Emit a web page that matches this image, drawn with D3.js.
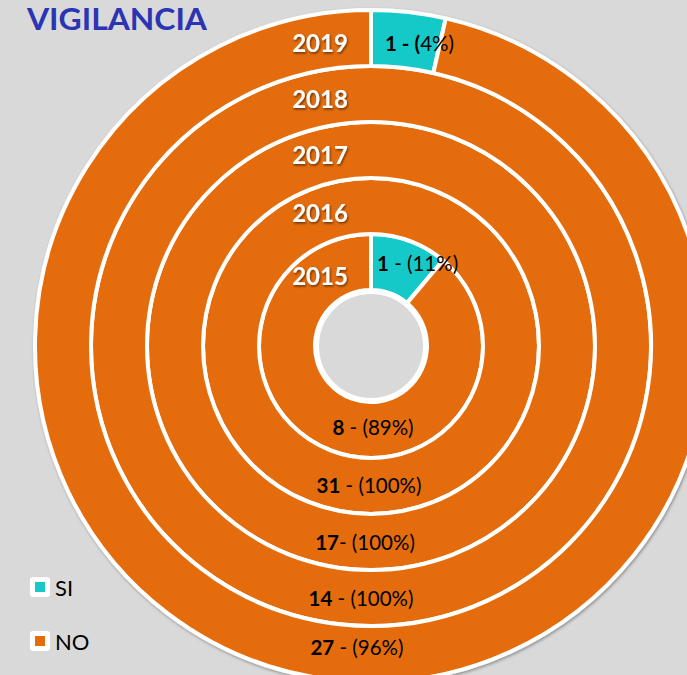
<!DOCTYPE html>
<html>
<head>
<meta charset="utf-8">
<script src="https://cdn.jsdelivr.net/npm/d3@7"></script>
<style>
  html, body { margin: 0; padding: 0; background: #d9d9d9; overflow: hidden; }
  svg { display: block; font-family: Lato, "Open Sans", sans-serif; }
</style>
</head>
<body>
<svg id="chart" width="687" height="675"></svg>
<script>
// data (inner ring first)
const years = ["2015", "2016", "2017", "2018", "2019"];
const siValues = [1, 0, 0, 0, 1];
const noValues = [8, 31, 17, 14, 27];
const noSeparators = [" - ", " - ", "- ", " - ", " - "];
const categories = ["SI", "NO"];

const width = 687, height = 675;
const cx = 371, cy = 346;

const color = d3.scaleOrdinal()
    .domain(categories)
    .range(["#18c9c9", "#e46c0a"]);

// each ring is one band of the radius
const ring = d3.scaleBand()
    .domain(years)
    .range([56, 336]);

const pie = d3.pie()
    .sort(null)
    .value(d => d.value);

const pct = v => Math.round(v * 100) + "%";

const svg = d3.select("#chart");

const defs = svg.append("defs");
const sh = defs.append("filter").attr("id", "shadow")
    .attr("x", "-10%").attr("y", "-10%").attr("width", "120%").attr("height", "120%");
sh.append("feDropShadow").attr("dx", 1).attr("dy", 1.5).attr("stdDeviation", 1.5)
    .attr("flood-color", "#000").attr("flood-opacity", 0.35);
const tsh = defs.append("filter").attr("id", "tshadow");
tsh.append("feDropShadow").attr("dx", 1).attr("dy", 1.5).attr("stdDeviation", 1)
    .attr("flood-color", "#000").attr("flood-opacity", 0.55);

const g = svg.append("g").attr("transform", `translate(${cx},${cy})`);
const rings = g.append("g").attr("filter", "url(#shadow)");

// small nudges of the bottom labels, as excel placed them
const noLift = [3, 1, 0, 0, 7];

years.forEach((yr, i) => {
  const data = [
    { key: "SI", value: siValues[i] },
    { key: "NO", value: noValues[i] }
  ];
  const total = siValues[i] + noValues[i];
  const arc = d3.arc()
      .innerRadius(ring(yr))
      .outerRadius(ring(yr) + ring.bandwidth());

  rings.selectAll(null)
    .data(pie(data).filter(d => d.data.value > 0))
    .enter().append("path")
      .attr("d", arc)
      .attr("fill", d => color(d.data.key))
      .attr("stroke", "#fff")
      .attr("stroke-width", 4)
      .attr("stroke-linejoin", "round");

  const mid = ring(yr) + ring.bandwidth() / 2;

  // year label, left of the top line
  g.append("text")
    .attr("x", -51)
    .attr("y", -Math.sqrt(mid * mid - 51 * 51) - (4 - i))
    .attr("text-anchor", "middle")
    .attr("dominant-baseline", "central")
    .attr("fill", "#fff")
    .attr("font-weight", 700)
    .attr("font-size", 24)
    .attr("filter", "url(#tshadow)")
    .text(yr);

  // SI label
  if (siValues[i] > 0) {
    const t = g.append("text")
      .attr("x", 6 + i * 2)
      .attr("y", -mid * 0.985)
      .attr("dominant-baseline", "central")
      .attr("font-size", 20.5)
      .attr("fill", "#000");
    if (i === years.length - 1) {
      t.append("tspan").attr("font-weight", 700).text(siValues[i] + " - (");
      t.append("tspan").text(pct(siValues[i] / total) + ")");
    } else {
      t.append("tspan").attr("font-weight", 700).text(siValues[i]);
      t.append("tspan").text(" - (" + pct(siValues[i] / total) + ")");
    }
  }

  // NO label at the bottom
  const n = g.append("text")
    .attr("x", 2 - i * 4)
    .attr("y", mid - noLift[i])
    .attr("text-anchor", "middle")
    .attr("dominant-baseline", "central")
    .attr("font-size", 20.5)
    .attr("fill", "#000");
  n.append("tspan").attr("font-weight", 700).text(noValues[i]);
  n.append("tspan").text(noSeparators[i] + "(" + pct(noValues[i] / total) + ")");
});

// centre hole border
g.append("circle")
  .attr("r", ring.range()[0] - 2)
  .attr("fill", "#d9d9d9")
  .attr("stroke", "#fff")
  .attr("stroke-width", 4);

// title
svg.append("text")
  .attr("x", 27)
  .attr("y", 30)
  .attr("font-size", 30)
  .attr("font-weight", 700)
  .attr("fill", "#2b35b3")
  .attr("textLength", 180)
  .attr("lengthAdjust", "spacingAndGlyphs")
  .text("VIGILANCIA");

// legend
const legend = svg.append("g");
const item = legend.selectAll("g")
  .data(categories)
  .enter().append("g")
    .attr("transform", (d, i) => `translate(30,${577 + i * 54})`);
item.append("rect")
  .attr("width", 20).attr("height", 20).attr("rx", 3)
  .attr("fill", "#fff");
item.append("rect")
  .attr("x", 5).attr("y", 5).attr("width", 10).attr("height", 10)
  .attr("fill", d => color(d));
item.append("text")
  .attr("x", 25)
  .attr("y", 10)
  .attr("dominant-baseline", "central")
  .attr("font-size", 22)
  .attr("fill", "#000")
  .text(d => d);
</script>
</body>
</html>
